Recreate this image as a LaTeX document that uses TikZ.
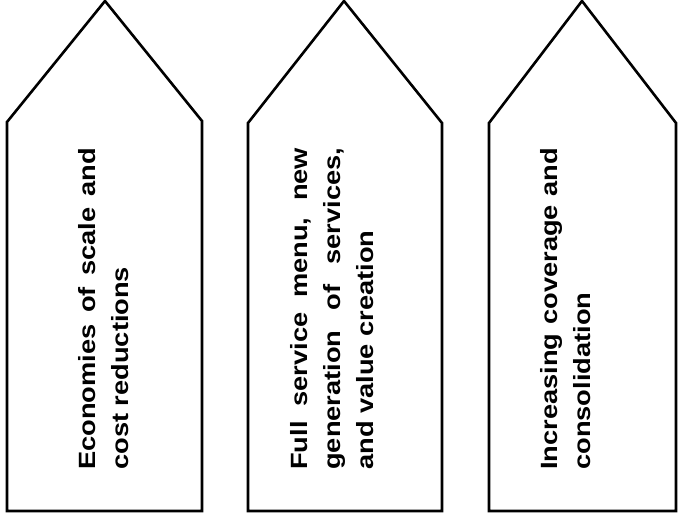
\documentclass[tikz,border=0pt]{standalone}
\usepackage{fontspec}
\setmainfont{Liberation Sans}
\newfontfamily\widesans[FakeStretch=1.16]{Liberation Sans}
\begin{document}
\begin{tikzpicture}[x=1pt,y=1pt,
  arrowbox/.style={draw=black, line width=2.6pt, line join=miter},
  boxtext/.style={rotate=90, anchor=north west, inner sep=0pt, align=left,
    font=\widesans\bfseries\fontsize{23.5}{33}\selectfont}]
\useasboundingbox (0,0) rectangle (678,516);
% pentagon arrows
\draw[arrowbox] (7,5) -- (7,394) -- (105,515) -- (202,395) -- (202,5) -- cycle;
\draw[arrowbox] (248,5) -- (248,393) -- (344,515) -- (442,393) -- (442,5) -- cycle;
\draw[arrowbox] (489,5) -- (489,393) -- (582,515) -- (676,393) -- (676,5) -- cycle;
% texts
\node[boxtext] (t1) at (78,46)
  {\makebox[322pt][s]{Economies of scale and}\\cost reductions};
\node[boxtext] (t2) at (290,46)
  {\makebox[322pt][s]{Full service menu, new}\\
   \makebox[322pt][s]{generation of services,}\\and value creation};
\node[boxtext] (t3) at (540,46)
  {\makebox[322pt][s]{Increasing coverage and}\\consolidation};
\end{tikzpicture}
\end{document}
